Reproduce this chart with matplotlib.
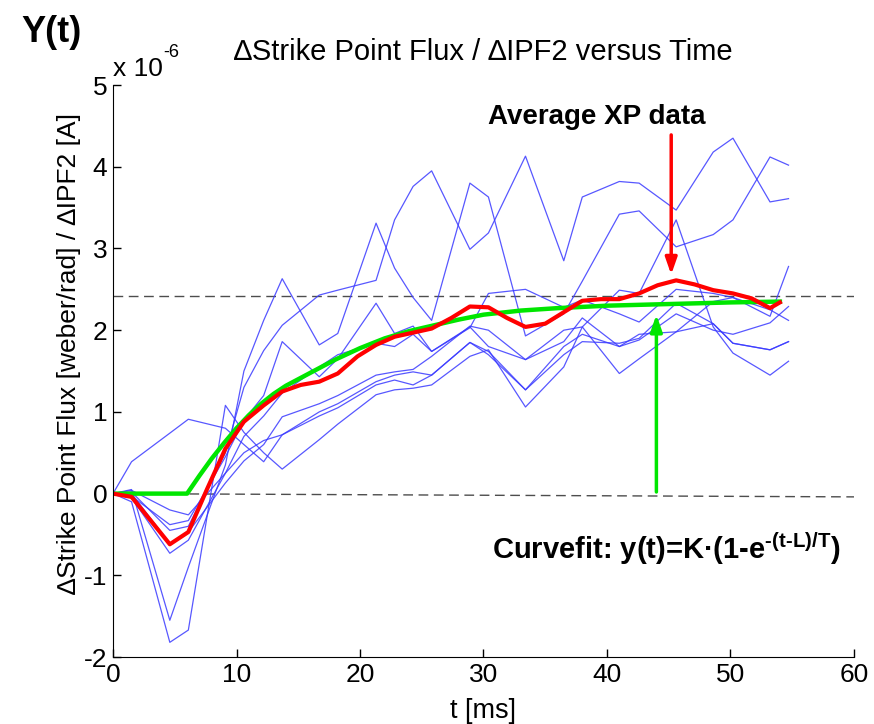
import matplotlib
matplotlib.use("Agg")
import matplotlib.pyplot as plt

plt.rcParams['font.family'] = ['Liberation Sans', 'DejaVu Sans']
plt.rcParams['axes.unicode_minus'] = False
plt.rcParams['mathtext.fontset'] = 'custom'
plt.rcParams['mathtext.rm'] = 'Liberation Sans:bold'
plt.rcParams['mathtext.bf'] = 'Liberation Sans:bold'
plt.rcParams['mathtext.default'] = 'bf'

# sample times of the individual shots [ms]
t = [0, 1.5, 4.6, 6.1, 9.1, 10.6, 12.2, 13.7, 16.7, 18.2, 21.3, 22.8, 24.3,
     25.8, 28.9, 30.4, 33.4, 36.5, 38.0, 41.0, 42.6, 45.6, 48.6, 50.2, 53.2, 54.7]

# individual shots, units of 1e-6 weber/rad/A
shot1 = [0, 0.02, -0.45, -0.40, 0.50, 1.30, 1.75, 2.06, 2.43, 2.49, 2.61, 3.35, 3.76,
         3.95, 2.99, 3.19, 4.13, 2.85, 3.63, 3.82, 3.80, 3.47, 4.18, 4.35, 3.57, 3.61]
shot2 = [0, 0.05, -1.55, -0.90, 0.35, 1.50, 2.12, 2.63, 1.82, 1.96, 3.31, 2.76, 2.40,
         2.12, 3.80, 3.63, 1.93, 2.20, 2.60, 3.42, 3.46, 3.02, 3.17, 3.35, 4.12, 4.02]
shot3 = [0, -0.10, -1.82, -1.67, 1.08, 0.75, 0.50, 0.30, 0.66, 0.85, 1.21, 1.27, 1.29,
         1.33, 1.68, 1.76, 1.06, 1.55, 2.04, 2.49, 2.45, 3.35, 2.04, 1.72, 1.45, 1.62]
shot4 = [0, 0.39, 0.74, 0.91, 0.80, 0.60, 0.39, 0.72, 1.00, 1.10, 1.37, 1.45, 1.49,
         1.45, 1.85, 1.70, 1.27, 1.70, 1.86, 1.84, 1.90, 2.33, 2.08, 1.84, 1.76, 1.86]
shot5 = [0, -0.03, -0.38, -0.33, 0.45, 0.90, 1.20, 1.86, 1.43, 1.65, 2.33, 1.96, 2.05,
         1.74, 2.04, 1.80, 1.64, 1.86, 2.15, 1.80, 1.95, 1.98, 2.35, 2.40, 2.17, 2.78]
shot6 = [0, 0.04, -0.20, -0.26, 0.25, 0.70, 0.95, 1.23, 1.55, 1.70, 1.84, 1.80, 1.95,
         1.74, 2.03, 2.45, 2.50, 2.28, 2.37, 2.20, 2.10, 2.50, 2.45, 2.40, 2.25, 2.12]
shot7 = [0, -0.05, -0.73, -0.57, 0.25, 0.50, 0.65, 0.72, 0.95, 1.05, 1.33, 1.39, 1.33,
         1.45, 1.85, 1.74, 1.27, 1.80, 1.95, 1.80, 1.88, 2.20, 2.00, 1.95, 2.09, 2.29]
shot8 = [0, 0.00, -0.61, -0.47, 0.13, 0.40, 0.60, 0.94, 1.10, 1.20, 1.45, 1.49, 1.52,
         1.68, 2.05, 2.00, 1.64, 2.00, 2.04, 1.47, 1.65, 1.98, 2.08, 1.84, 1.76, 1.86]
shots = [shot1, shot2, shot3, shot4, shot5, shot6, shot7, shot8]

# average XP data
t_avg = [0, 1.5, 3.0, 4.6, 6.1, 7.6, 9.1, 10.6, 12.2, 13.7, 15.2, 16.7, 18.2, 19.8,
         21.3, 22.8, 24.3, 25.8, 27.4, 28.9, 30.4, 31.9, 33.4, 35.0, 36.5, 38.0,
         39.5, 41.0, 42.6, 44.1, 45.6, 47.1, 48.6, 50.2, 51.7, 53.2, 54.0]
avg = [0, -0.04, -0.32, -0.62, -0.47, 0.05, 0.55, 0.88, 1.08, 1.25, 1.33, 1.37, 1.47,
       1.68, 1.82, 1.92, 1.97, 2.02, 2.15, 2.29, 2.28, 2.15, 2.04, 2.08, 2.22, 2.36,
       2.38, 2.38, 2.45, 2.55, 2.61, 2.56, 2.49, 2.45, 2.39, 2.27, 2.34]

# curve fit
t_fit = [0, 6.0, 7.0, 8.0, 9.0, 10.0, 11.0, 12.0, 13.0, 14.0, 16.0, 18.0, 20.0, 22.0,
         24.0, 26.0, 28.0, 30.0, 33.0, 36.0, 40.0, 45.0, 50.0, 54.0]
fit = [0, 0, 0.22, 0.43, 0.62, 0.80, 0.96, 1.10, 1.22, 1.32, 1.48, 1.64, 1.78, 1.90,
       1.99, 2.06, 2.13, 2.19, 2.24, 2.27, 2.30, 2.32, 2.34, 2.35]

# dashed reference levels
level_t = [0, 60]
level_hi = [2.42, 2.42]
level_lo = [0.0, -0.04]

fig = plt.figure(figsize=(8.74, 7.24), dpi=100)
ax = fig.add_axes([0.1293, 0.0925, 0.8478, 0.790])

ax.plot(level_t, level_hi, color='#4d4d4d', lw=1.0, dashes=(7, 4))
ax.plot(level_t, level_lo, color='#4d4d4d', lw=1.0, dashes=(7, 4))

for s in shots:
    ax.plot(t, s, color='#3a3aff', lw=0.9, alpha=0.85)

ax.plot(t_fit, fit, color='#00e600', lw=3.2)
ax.plot(t_avg, avg, color='#ff0000', lw=3.0)

# arrows
ax.annotate('', xy=(45.2, 2.68), xytext=(45.2, 4.39),
            arrowprops=dict(arrowstyle='-|>,head_length=1.0,head_width=0.35',
                            color='#ff0000', lw=2.5, shrinkA=0, shrinkB=0))
ax.annotate('', xy=(44.0, 2.19), xytext=(44.0, 0.02),
            arrowprops=dict(arrowstyle='-|>,head_length=1.0,head_width=0.35',
                            color='#00e600', lw=2.5, shrinkA=0, shrinkB=0))

ax.text(39.2, 4.61, 'Average XP data', fontsize=20, fontweight='bold',
        ha='center', va='center')
ax.text(30.7, -0.68, 'Curvefit: y(t)=K\u00b7(1-e$^{\\text{-(t-L)/T}}$)', fontsize=21,
        fontweight='bold', ha='left', va='center')

ax.set_xlim(0, 60)
ax.set_ylim(-2, 5)
ax.set_xticks([0, 10, 20, 30, 40, 50, 60])
ax.set_yticks([-2, -1, 0, 1, 2, 3, 4, 5])
ax.tick_params(direction='in', length=6, width=1, labelsize=19, pad=4)
for side in ['top', 'right']:
    ax.spines[side].set_visible(False)

ax.set_xlabel('t [ms]', fontsize=19.5, labelpad=8)
ax.set_ylabel('\u2206Strike Point Flux [weber/rad] / \u2206IPF2 [A]', fontsize=19)
ax.yaxis.set_label_coords(-0.043, 0.531)
ax.set_title('\u2206Strike Point Flux / \u2206IPF2 versus Time', fontsize=21, pad=18)

fig.text(0.129, 0.905, 'x 10', fontsize=19, ha='left', va='center')
fig.text(0.187, 0.928, '-6', fontsize=13, ha='left', va='center')
fig.text(0.025, 0.955, 'Y(t)', fontsize=26, fontweight='bold', ha='left', va='center')

fig.savefig('out.png', dpi=100)
